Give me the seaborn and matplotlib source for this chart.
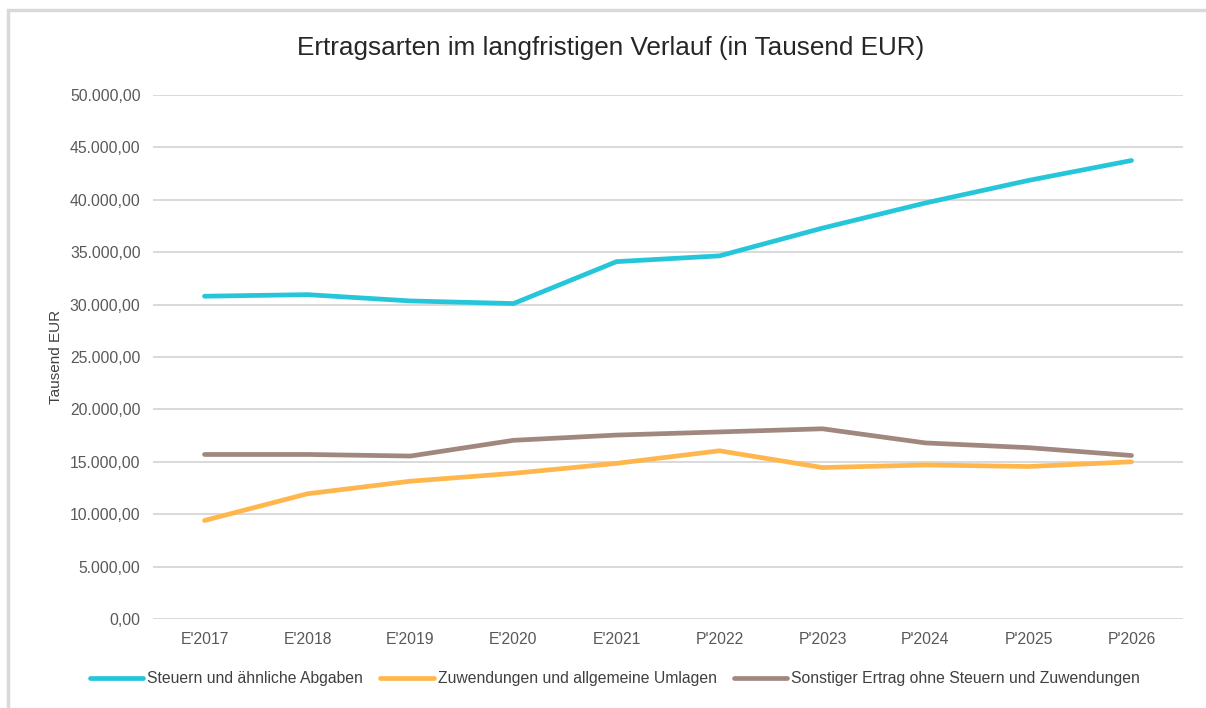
import matplotlib
matplotlib.use("Agg")
import matplotlib.pyplot as plt
from matplotlib.patches import Rectangle
from matplotlib.ticker import FuncFormatter, MultipleLocator
import pandas as pd
import seaborn as sns

YEARS = ["E'2017", "E'2018", "E'2019", "E'2020", "E'2021",
         "P'2022", "P'2023", "P'2024", "P'2025", "P'2026"]

STEUERN = [30800, 30950, 30350, 30100, 34100, 34650, 37300, 39700, 41850, 43750]
ZUWENDUNGEN = [9400, 11950, 13150, 13900, 14850, 16050, 14450, 14700, 14550, 15000]
SONSTIGE = [15700, 15700, 15550, 17050, 17550, 17850, 18150, 16800, 16350, 15600]

SERIES_NAMES = ["Steuern und ähnliche Abgaben",
                "Zuwendungen und allgemeine Umlagen",
                "Sonstiger Ertrag ohne Steuern und Zuwendungen"]
COLORS = ["#26C6DA", "#FFB74D", "#A1887F"]


def de_format(v, _pos):
    s = f"{v:,.2f}"
    return s.replace(",", "X").replace(".", ",").replace("X", ".")


df = pd.concat([
    pd.DataFrame({"year": YEARS, "value": vals, "series": name})
    for name, vals in zip(SERIES_NAMES, [STEUERN, ZUWENDUNGEN, SONSTIGE])
])

sns.set_theme(style="white")
plt.rcParams["font.family"] = ["Liberation Sans", "DejaVu Sans"]

W, H = 1206, 708
fig = plt.figure(figsize=(W / 100, H / 100), dpi=100)
ax = fig.add_axes([153 / W, 1 - 619 / H, (1183 - 153) / W, (619 - 95) / H])

sns.lineplot(data=df, x="year", y="value", hue="series", palette=COLORS,
             linewidth=3.4, sort=False, ax=ax, legend=False)
for ln in ax.get_lines():
    ln.set_solid_capstyle("round")
    ln.set_solid_joinstyle("round")

ax.set_xlim(-0.5, len(YEARS) - 0.5)
ax.set_ylim(0, 50000)
ax.yaxis.set_major_locator(MultipleLocator(5000))
ax.yaxis.set_major_formatter(FuncFormatter(de_format))
ax.grid(axis="y", color="#d9d9d9", linewidth=1.4)
ax.set_axisbelow(True)
for sp in ax.spines.values():
    sp.set_visible(False)
ax.tick_params(axis="both", length=0, labelsize=11.3, colors="#595959")
ax.tick_params(axis="x", pad=9)
ax.tick_params(axis="y", pad=9)
ax.set_xlabel("")
ax.set_ylabel("Tausend EUR", fontsize=11, color="#404040", labelpad=5)

fig.text(611 / W, 1 - 48 / H, "Ertragsarten im langfristigen Verlauf (in Tausend EUR)",
         ha="center", va="center", fontsize=18.8, color="#262626")

handles = [plt.Line2D([], [], color=c, linewidth=3.4, solid_capstyle="round") for c in COLORS]
fig.legend(handles, SERIES_NAMES, loc="center", bbox_to_anchor=(615 / W, 1 - 679 / H),
           ncol=3, frameon=False, fontsize=11.3, handlelength=3.4, handletextpad=0.25,
           columnspacing=1.1, labelcolor="#404040")

fig.patches.append(Rectangle((8 / W, -0.1), 1.2, 1 - 10 / H + 0.1, transform=fig.transFigure,
                             fill=False, edgecolor="#d9d9d9", linewidth=2.5))

fig.savefig("out.png", dpi=100)
